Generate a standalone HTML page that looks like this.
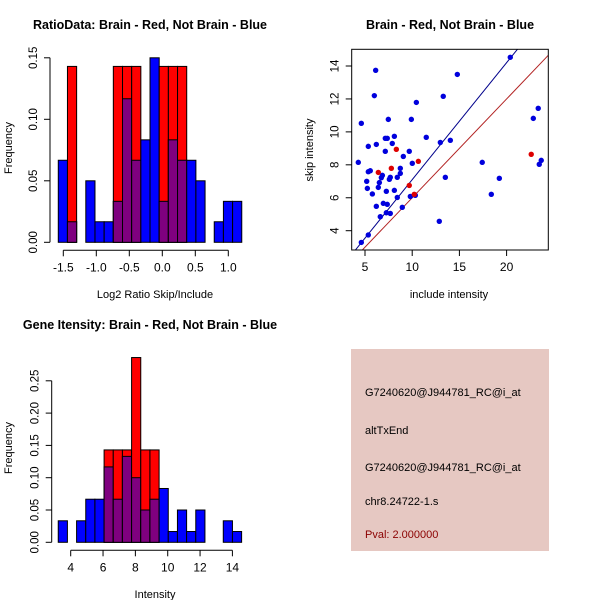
<!DOCTYPE html>
<html><head><meta charset="utf-8"><style>
body{margin:0;background:#fff;}
svg{display:block;font-family:"Liberation Sans",sans-serif;}
</style></head><body>
<svg id="root" width="600" height="600" viewBox="0 0 600 600">
<rect width="600" height="600" fill="#fff"/>
<g id="p1"></g>
<g id="p2"></g>
<g id="p3"></g>
<g>
<rect x="351" y="349" width="198" height="202" fill="#e6c8c2"/>
<text x="365" y="396" font-size="11" fill="#000">G7240620@J944781_RC@i_at</text>
<text x="365" y="434" font-size="11" fill="#000">altTxEnd</text>
<text x="365" y="471" font-size="11" fill="#000">G7240620@J944781_RC@i_at</text>
<text x="365" y="505" font-size="11" fill="#000">chr8.24722-1.s</text>
<text x="365" y="538" font-size="11" fill="#8b0000">Pval: 2.000000</text>
</g>
</svg>
<script>
// Ratio histogram data
const ratioStart = -1.576, ratioWidth = 0.139;
const ratioBlue = [0.0667,0.0167,0,0.05,0.0167,0.0167,0.0333,0.1167,0.0667,0.0833,0.15,0.0333,0.0833,0.0667,0.0667,0.05,0,0.0167,0.0333,0.0333];
const ratioRed  = [0,0.143,0,0,0,0,0.143,0.143,0.143,0,0,0.143,0.143,0.143,0,0,0,0,0,0];
const ratioXTicks = [-1.5,-1.0,-0.5,0.0,0.5,1.0];
const ratioXLabels = ["-1.5","-1.0","-0.5","0.0","0.5","1.0"];
const ratioYTicks = [0,0.05,0.10,0.15];
const ratioYLabels = ["0.00","0.05","0.10","0.15"];
// Gene intensity histogram data
const geneStart = 3.23, geneWidth = 0.567;
const geneBlue = [0.0333,0,0.0333,0.0667,0.0667,0.1167,0.0667,0.133,0.1,0.05,0.0667,0.0833,0.0167,0.05,0.0167,0.05,0,0,0.0333,0.0167];
const geneRed  = [0,0,0,0,0,0.143,0.143,0.143,0.286,0.143,0.143,0,0,0,0,0,0,0,0,0];
const geneXTicks = [4,6,8,10,12,14];
const geneYTicks = [0,0.05,0.10,0.15,0.20,0.25];
const geneYLabels = ["0.00","0.05","0.10","0.15","0.20","0.25"];
// Scatter data
const blueX = [4.29,4.61,4.61,5.35,5.18,5.25,5.35,5.35,5.56,5.78,5.99,6.13,6.20,6.20,6.41,6.52,6.62,6.73,6.84,6.94,7.15,7.15,7.26,7.26,7.36,7.36,7.47,7.58,7.68,7.68,7.89,8.11,8.11,8.42,8.42,8.74,8.74,9.06,8.95,9.69,9.91,9.80,10.01,10.33,10.44,11.49,12.87,12.98,13.29,13.51,14.04,14.78,17.42,18.38,19.23,20.39,22.83,23.35,23.46,23.67];
const blueY = [8.15,10.52,3.29,3.74,7.0,6.57,9.12,7.58,7.64,6.23,12.2,13.74,9.24,5.48,6.63,6.92,4.85,7.22,7.36,5.66,9.61,8.82,6.39,5.09,9.61,5.60,10.76,7.12,7.24,5.05,9.3,9.73,6.45,7.24,6.02,7.79,7.48,8.51,5.42,8.82,10.76,6.08,8.09,6.15,11.79,9.67,4.57,9.36,12.16,7.24,9.49,13.49,8.15,6.21,7.18,14.53,10.82,11.43,8.03,8.27];
const redX = [6.41,7.79,8.32,9.69,10.65,10.22,22.61];
const redY = [7.54,7.79,8.94,6.75,8.21,6.21,8.64];
const blueSlope = 0.71, redSlope = 0.6;
const scatXTicks = [5,10,15,20];
const scatYTicks = [4,6,8,10,12,14];

const NS = "http://www.w3.org/2000/svg";
function mk(parent, tag, attrs){const e=document.createElementNS(NS,tag);for(const k in attrs)e.setAttribute(k,attrs[k]);parent.appendChild(e);return e;}
function txt(parent,x,y,s,size,anchor,rot,weight){const t=mk(parent,'text',{x:x,y:y,'font-size':size,'text-anchor':anchor||'middle'});if(rot)t.setAttribute('transform','rotate(-90 '+x+' '+y+')');if(weight)t.setAttribute('font-weight',weight);t.textContent=s;return t;}

function hist(g, cfg){
  const sx=v=>cfg.x0px+(v-cfg.x0)*cfg.xs, sy=v=>cfg.y0px-v*cfg.ys;
  const n=cfg.blue.length;
  for(let i=0;i<n;i++){
    const a=sx(cfg.start+i*cfg.width), b=sx(cfg.start+(i+1)*cfg.width);
    const bv=cfg.blue[i], rv=cfg.red[i];
    if(bv>0){const r=mk(g,'rect',{x:a,y:sy(bv),width:b-a,height:sy(0)-sy(bv),fill:'#0000ff',stroke:'#000','stroke-width':1});
      
      }
    if(rv>0){const r=mk(g,'rect',{x:a,y:sy(rv),width:b-a,height:sy(0)-sy(rv),fill:'#ff0000',stroke:'#000','stroke-width':1});
      
      }
    if(bv>0&&rv>0){const m=Math.min(bv,rv);const r=mk(g,'rect',{x:a,y:sy(m),width:b-a,height:sy(0)-sy(m),fill:'#7f007f',stroke:'#000','stroke-width':1});
      
      }
  }
  const xa=mk(g,'g',{});
  
  
  const ay=cfg.y0px+8;
  mk(xa,'line',{x1:sx(cfg.xt[0]),x2:sx(cfg.xt[cfg.xt.length-1]),y1:ay,y2:ay,stroke:'#000'});
  cfg.xt.forEach((v,i)=>{mk(xa,'line',{x1:sx(v),x2:sx(v),y1:ay,y2:ay+6,stroke:'#000'});txt(xa,sx(v),ay+21,cfg.xl[i],12);});
  const ya=mk(g,'g',{});
  
  
  const ax=cfg.x0px0;
  mk(ya,'line',{x1:ax,x2:ax,y1:sy(cfg.yt[0]),y2:sy(cfg.yt[cfg.yt.length-1]),stroke:'#000'});
  cfg.yt.forEach((v,i)=>{mk(ya,'line',{x1:ax,x2:ax-6,y1:sy(v),y2:sy(v),stroke:'#000'});txt(ya,ax-13,sy(v),cfg.yl[i],11.5,'middle',true);});
  const t=txt(g,cfg.titleX,cfg.titleY,cfg.title,12.5,'middle',false,'bold');
  
  
  const xt=txt(g,cfg.titleX+5,cfg.xlabY,cfg.xlab,11);
  
  
  const yt=txt(g,12,cfg.ylabY,'Frequency',11,'middle',true);
  
  
}

hist(document.getElementById('p1'),{start:ratioStart,width:ratioWidth,blue:ratioBlue,red:ratioRed,
  x0:-1.5,x0px:63.3,xs:66,y0px:242.3,ys:1230,x0px0:50,
  xt:ratioXTicks,xl:ratioXLabels,yt:ratioYTicks,yl:ratioYLabels,
  title:'RatioData: Brain - Red, Not Brain - Blue',titleX:150,titleY:29,xlab:'Log2 Ratio Skip/Include',xlabY:298,ylabY:148});
hist(document.getElementById('p3'),{start:geneStart,width:geneWidth,blue:geneBlue,red:geneRed,
  x0:4,x0px:70.7,xs:16.17,y0px:542.3,ys:646,x0px0:51.7,
  xt:geneXTicks,xl:geneXTicks.map(String),yt:geneYTicks,yl:geneYLabels,
  title:'Gene Itensity: Brain - Red, Not Brain - Blue',titleX:150,titleY:329,xlab:'Intensity',xlabY:598,ylabY:448});

(function(){
  const g=document.getElementById('p2');
  const L=351.7,R=548.3,T=49.3,B=250;
  const sx=v=>365+(v-5)*9.44, sy=v=>230.7-(v-4)*16.47;
  const cp=mk(g,'clipPath',{id:'sc'});mk(cp,'rect',{x:L,y:T,width:R-L,height:B-T});
  const lines=mk(g,'g',{'clip-path':'url(#sc)'});
  const bl=mk(lines,'line',{x1:sx(0),y1:sy(0),x2:sx(30),y2:sy(30*blueSlope),stroke:'#00008b','stroke-width':1});
  
  
  const rl=mk(lines,'line',{x1:sx(0),y1:sy(0),x2:sx(30),y2:sy(30*redSlope),stroke:'#b22222','stroke-width':1});
  
  
  blueX.forEach((x,i)=>{const c=mk(g,'circle',{cx:sx(x),cy:sy(blueY[i]),r:2.7,fill:'#0000dd'});
    
    });
  redX.forEach((x,i)=>{const c=mk(g,'circle',{cx:sx(x),cy:sy(redY[i]),r:2.7,fill:'#dd0000'});
    
    });
  const box=mk(g,'rect',{x:L,y:T,width:R-L,height:B-T,fill:'none',stroke:'#000'});
  
  
  const xa=mk(g,'g',{});
  
  
  scatXTicks.forEach(v=>{mk(xa,'line',{x1:sx(v),x2:sx(v),y1:B,y2:B+6,stroke:'#000'});txt(xa,sx(v),B+21,String(v),12);});
  const ya=mk(g,'g',{});
  
  
  scatYTicks.forEach(v=>{mk(ya,'line',{x1:L,x2:L-6,y1:sy(v),y2:sy(v),stroke:'#000'});txt(ya,L-13,sy(v),String(v),11.5,'middle',true);});
  const t=txt(g,450,29,'Brain - Red, Not Brain - Blue',12.5,'middle',false,'bold');
  
  
  const xt=txt(g,449,298,'include intensity',11);
  
  
  const yt=txt(g,313,150,'skip intensity',11,'middle',true);
  
  
})();
</script>
</body></html>
